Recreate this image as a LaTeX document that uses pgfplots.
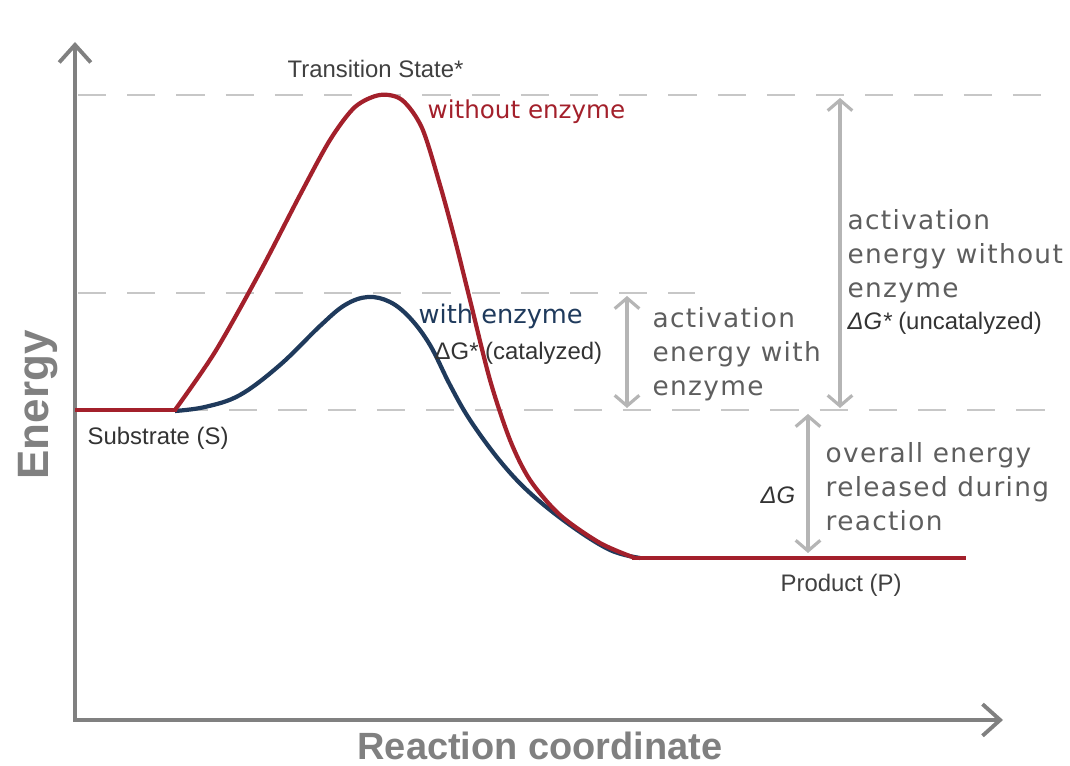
\documentclass[border=0pt]{standalone}
\usepackage{pgfplots}
\pgfplotsset{compat=1.18}
\usepackage{fontspec}
\setmainfont{Liberation Sans}
\newfontfamily\dv[LetterSpace=5]{DejaVu Sans}
\newfontfamily\dvn{DejaVu Sans}
\usetikzlibrary{arrows.meta}
\definecolor{redc}{HTML}{A3202B}
\definecolor{bluec}{HTML}{1F3A5C}
\definecolor{axc}{HTML}{808080}
\definecolor{arc}{HTML}{B5B5B5}
\definecolor{txc}{HTML}{5E5E5E}
\begin{document}
\begin{tikzpicture}
\path[use as bounding box] (0,0) rectangle (10.7cm,7.66cm);
\begin{axis}[
  at={(0,0)}, anchor=south west,
  scale only axis, width=10.7cm, height=7.66cm,
  xmin=0, xmax=1070, ymin=0, ymax=766, y dir=reverse,
  axis lines=none, ticks=none, clip=false,
]
% dashed guide lines
\addplot[arc!75, dash pattern=on 8pt off 6pt, line width=0.45pt] coordinates {(78,95) (1062,95)};
\addplot[arc!75, dash pattern=on 8pt off 6pt, line width=0.45pt] coordinates {(78,293) (695,293)};
\addplot[arc!75, dash pattern=on 8pt off 6pt, line width=0.45pt] coordinates {(180,410) (1062,410)};
% axes
\addplot[axc, line width=1.1pt, -{Straight Barb[length=5pt,width=9pt]}] coordinates {(75,722) (75,42)};
\addplot[axc, line width=1.1pt, -{Straight Barb[length=5pt,width=9pt]}] coordinates {(73,720) (1003,720)};
% with enzyme
\addplot[bluec, line width=1.2pt, smooth, tension=0.6] coordinates {
 (175,411) (205,407) (240,395) (280,365) (320,326) (345,305) (368,297) (390,302) (410,318) (430,345) (450,385) (470,420) (500,461) (530,493) (570,525) (610,550) (640,558)};
% without enzyme
\addplot[redc, line width=1.2pt, smooth, tension=0.5] coordinates {
 (175,410) (215,352) (260,272) (300,195) (330,140) (355,107) (380,95) (402,100) (422,128) (440,185) (455,240) (470,300) (490,380) (510,440) (530,480) (560,515) (600,543) (635,558)};
\addplot[redc, line width=1.2pt] coordinates {(75,410) (177,410)};
\addplot[redc, line width=1.2pt] coordinates {(632,558) (966,558)};
% double arrows
\addplot[arc, line width=0.9pt, {Straight Barb[length=3pt,width=7pt]}-{Straight Barb[length=3pt,width=7pt]}] coordinates {(627,296) (627,408)};
\addplot[arc, line width=0.9pt, {Straight Barb[length=3pt,width=7pt]}-{Straight Barb[length=3pt,width=7pt]}] coordinates {(840,98) (840,408)};
\addplot[arc, line width=0.9pt, {Straight Barb[length=3pt,width=7pt]}-{Straight Barb[length=3pt,width=7pt]}] coordinates {(808,414) (808,553)};
% texts
\node[anchor=west, text=black!75, font=\fontsize{6.8}{8}\selectfont, inner sep=0] at (287,69) {Transition State*};
\node[anchor=west, text=redc, font=\dvn\fontsize{7}{8}\selectfont, inner sep=0] at (427,112) {without enzyme};
\node[anchor=west, text=bluec, font=\dvn\fontsize{7.3}{8}\selectfont, inner sep=0] at (418,316) {with enzyme};
\node[anchor=west, text=black!80, font=\fontsize{6.8}{8}\selectfont, inner sep=0] at (434,353) {ΔG* (catalyzed)};
\node[anchor=north west, text=txc, font=\dv\fontsize{7.5}{9.7}\selectfont, align=left, inner sep=0] at (652,307) {activation\\energy with\\enzyme};
\node[anchor=north west, text=txc, font=\dv\fontsize{7.5}{9.7}\selectfont, align=left, inner sep=0] at (847,209) {activation\\energy without\\enzyme};
\node[anchor=west, text=black!80, font=\fontsize{6.8}{8}\selectfont, inner sep=0] at (847,323) {\itshape Δ\textit{G}*\upshape{} (uncatalyzed)};
\node[anchor=west, text=black!80, font=\fontsize{6.8}{8}\selectfont, inner sep=0] at (87,438) {Substrate (S)};
\node[anchor=west, text=black!80, font=\fontsize{6.8}{8}\selectfont, inner sep=0] at (760,495) {\itshape ΔG};
\node[anchor=north west, text=txc, font=\dv\fontsize{7.5}{9.7}\selectfont, align=left, inner sep=0] at (825,442) {overall energy\\released during\\reaction};
\node[anchor=west, text=black!75, font=\fontsize{6.8}{8}\selectfont, inner sep=0] at (780,585) {Product (P)};
\node[rotate=90, text=axc, font=\bfseries\fontsize{12.5}{14}\selectfont, inner sep=0] at (38,405) {Energy};
\node[anchor=base, text=axc, font=\bfseries\fontsize{10.8}{13}\selectfont, inner sep=0] at (540,760) {Reaction coordinate};
\end{axis}
\end{tikzpicture}
\end{document}
